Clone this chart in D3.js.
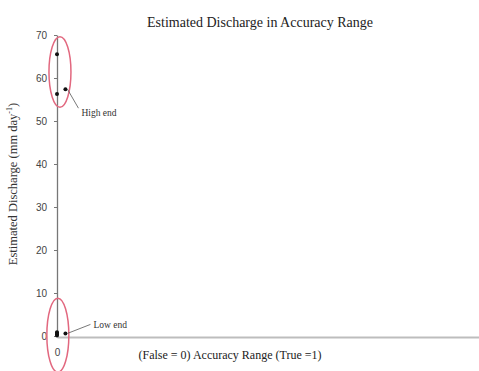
<!DOCTYPE html>
<html>
<head>
<meta charset="utf-8">
<script src="https://d3js.org/d3.v7.min.js"></script>
<style>
  body { margin: 0; background: #fff; }
  text { font-family: "Liberation Serif", "DejaVu Serif", serif; }
</style>
</head>
<body>
<div id="chart"></div>
<script>
// data
const accuracy  = [0, 0, 0.02, 0, 0, 0, 0, 0.02];
const discharge = [65.5, 56.3, 57.4, 0.1, 0.4, 0.7, 0.9, 0.6];
const yTicks = [0, 10, 20, 30, 40, 50, 60, 70];
const xTicks = [0];

// circled groups: centre in data units
const groups = [
    { name: "High end", cx: 0.007, cy: 61.4, ry: 8.2, from: [0.02, 57.4] },
    { name: "Low end",  cx: 0.002, cy: 0.2,  ry: 8.6, from: [0.02, 0.6] }
];

const W = 479, H = 371;
const margin = { top: 35, right: 0, bottom: 35, left: 57 };

const svg = d3.select("#chart")
    .append("svg")
    .attr("width", W)
    .attr("height", H);

const x = d3.scaleLinear().domain([0, 1]).range([margin.left, W]);
const y = d3.scaleLinear().domain([0, 70]).range([H - margin.bottom, margin.top]);

// x axis (light grey, thick)
const xAxis = svg.append("g")
    .attr("transform", `translate(0,${y(0) + 1})`)
    .call(d3.axisBottom(x).tickValues(xTicks).tickFormat(d3.format("d")).tickSize(0).tickPadding(12));
xAxis.select(".domain").attr("stroke", "#bdbdbd").attr("stroke-width", 2);
xAxis.selectAll("text")
    .style("font-family", "'Liberation Sans', Arial, sans-serif")
    .style("font-size", "10px")
    .attr("fill", "#444");

// y axis
const yAxis = svg.append("g")
    .attr("transform", `translate(${x(0)},0)`)
    .call(d3.axisLeft(y).tickValues(yTicks).tickSize(3).tickSizeOuter(0).tickPadding(7));
yAxis.select(".domain").attr("stroke", "#777").attr("stroke-width", 1.3);
yAxis.selectAll(".tick line").attr("stroke", "#777");
yAxis.selectAll("text")
    .style("font-family", "'Liberation Sans', Arial, sans-serif")
    .style("font-size", "10px")
    .attr("fill", "#444");

// points
svg.selectAll(".pt")
    .data(accuracy.map((a, i) => ({ a: a, v: discharge[i] })))
    .enter()
    .append("circle")
    .attr("class", "pt")
    .attr("cx", d => x(d.a))
    .attr("cy", d => y(d.v))
    .attr("r", 2)
    .attr("fill", "#111");

// ellipses, leader lines and labels
groups.forEach(g => {
    const cy = y(g.cy);
    const ry = y(0) - y(g.ry);
    svg.append("ellipse")
        .attr("cx", x(g.cx))
        .attr("cy", cy)
        .attr("rx", 11)
        .attr("ry", ry)
        .attr("fill", "none")
        .attr("stroke", "#e2687f")
        .attr("stroke-width", 1.5);

    const px = x(g.from[0]) + 2, py = y(g.from[1]);
    const lx = g.name === "High end" ? px + 11 : px + 23;
    const ly = g.name === "High end" ? py + 19 : py - 9;
    svg.append("line")
        .attr("x1", px).attr("y1", py)
        .attr("x2", lx).attr("y2", ly)
        .attr("stroke", "#555")
        .attr("stroke-width", 0.8);
    svg.append("text")
        .attr("x", lx + 3)
        .attr("y", ly + (g.name === "High end" ? 8 : 4))
        .style("font-size", "9.5px")
        .attr("fill", "#333")
        .text(g.name);
});

// title
svg.append("text")
    .attr("x", 260)
    .attr("y", 27)
    .attr("text-anchor", "middle")
    .style("font-size", "14px")
    .attr("fill", "#222")
    .text("Estimated Discharge in Accuracy Range");

// axis labels
svg.append("text")
    .attr("x", 230)
    .attr("y", 359)
    .attr("text-anchor", "middle")
    .style("font-size", "12px")
    .attr("fill", "#222")
    .text("(False = 0) Accuracy Range (True =1)");

svg.append("text")
    .attr("transform", "translate(17,184) rotate(-90)")
    .attr("text-anchor", "middle")
    .style("font-size", "12.5px")
    .attr("fill", "#333")
    .html("Estimated Discharge (mm day<tspan dy='-5' font-size='8px'>-1</tspan><tspan dy='5'>)</tspan>");
</script>
</body>
</html>
